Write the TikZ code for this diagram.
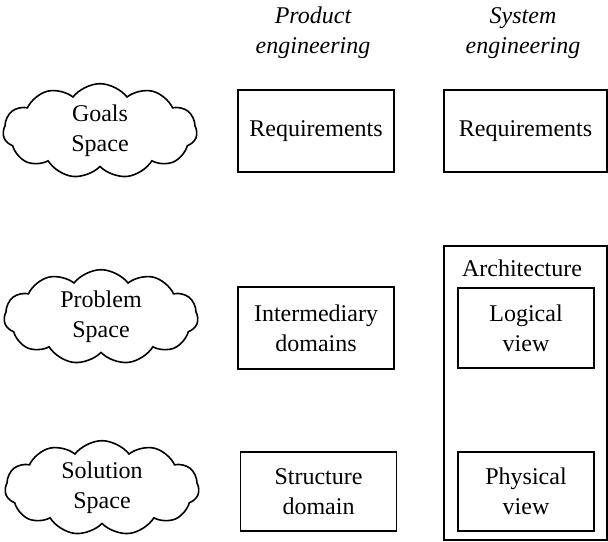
\documentclass[tikz,border=0pt]{standalone}
\usepackage{fontspec}
\setmainfont{LiberationSerif}[Extension=.ttf, UprightFont=*-Regular, ItalicFont=*-Italic, BoldFont=*-Bold]
\usepackage{tikz}
\usetikzlibrary{positioning,shapes.symbols}

\begin{document}
\begin{tikzpicture}[
  x=0.5pt, y=-0.5pt,
  font=\fontsize{12}{15}\selectfont,
  every node/.style={align=center, inner sep=1pt},
  spacecloud/.style={draw, cloud, cloud puffs=11, cloud puff arc=105, aspect=2.4, line width=0.8pt, inner xsep=0pt, inner ysep=0pt, minimum width=97pt},
  partbox/.style={draw, line width=0.6pt, minimum width=78pt, minimum height=41pt},
  viewbox/.style={draw, line width=0.6pt, minimum width=68pt, minimum height=40pt},
  colhead/.style={font=\fontsize{12}{15}\selectfont\itshape}
]
\useasboundingbox (0,0) rectangle (608,541);
% spaces
\node[spacecloud] (goals) at (100,131) {Goals\\Space};
\node[spacecloud] (problem) at (101,317) {Problem\\Space};
\node[spacecloud] (solution) at (102,488) {Solution\\Space};
% product engineering
\node[partbox] (preq) at (316,131) {Requirements};
\node[partbox] (pinter) at (316,328) {Intermediary\\domains};
\node[partbox, minimum height=39.5pt] (pstruct) at (318.5,491.5) {Structure\\domain};
\node[colhead] (phead) at (313,33) {Product\\engineering};
% system engineering
\node[partbox, minimum width=81.5pt] (sreq) at (525.5,131) {Requirements};
\node[draw, line width=0.6pt, minimum width=81.5pt, minimum height=147pt] (arch) at (525.5,393) {};
\node (archlabel) at (522,268) {Architecture};
\node[viewbox] (logical) at (526,328) {Logical\\view};
\node[viewbox, minimum height=39.5pt] (physical) at (526,491.5) {Physical\\view};
\node[colhead] (shead) at (523,33) {System\\engineering};
\end{tikzpicture}
\end{document}
